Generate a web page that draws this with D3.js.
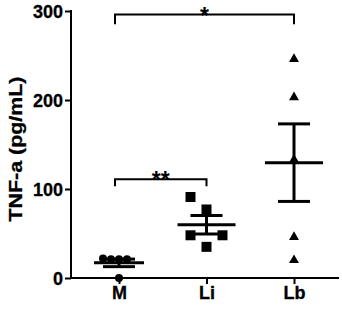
<!DOCTYPE html>
<html><head><meta charset="utf-8">
<script src="https://cdn.jsdelivr.net/npm/d3@7"></script>
<style>html,body{margin:0;padding:0;background:#fff;}svg{display:block;}</style>
</head><body>
<svg id="c" width="342" height="309"></svg>
<script>
const categories = ["M", "Li", "Lb"];
const valuesM  = [0, 21, 21, 22, 21];
const valuesLi = [35, 48, 48, 77, 91];
const valuesLb = [20, 46, 133, 203, 246];
const yTicks = [0, 100, 200, 300];
const yLabel = "TNF-a (pg/mL)";
const comparisons = [ {from:"M", to:"Lb", level:296, drop:285, label:"*"},
                      {from:"M", to:"Li", level:111, drop:103, label:"**"} ];

const groups = [
  {name:"M", values:valuesM, shape:d3.symbolCircle, size:50, w:8},
  {name:"Li", values:valuesLi, shape:d3.symbolSquare, size:100, w:10},
  {name:"Lb", values:valuesLb, shape:d3.symbolTriangle, size:43, w:10}
];

const svg = d3.select("#c");
const x = d3.scalePoint().domain(categories).range([119, 294]);
const y = d3.scaleLinear().domain([0, 300]).range([278, 11]);
const font = "'Liberation Sans', Arial, Helvetica, sans-serif";

// axes
svg.append("line").attr("x1", 71).attr("x2", 339).attr("y1", y(0)).attr("y2", y(0))
  .attr("stroke", "#000").attr("stroke-width", 2);
svg.append("line").attr("x1", 71).attr("x2", 71).attr("y1", y(0)+1).attr("y2", y(300)-1)
  .attr("stroke", "#000").attr("stroke-width", 2);

const ya = svg.append("g").attr("transform", "translate(71,0)")
  .call(d3.axisLeft(y).tickValues(yTicks).tickSize(6).tickPadding(2));
ya.select(".domain").remove();
ya.selectAll(".tick line").attr("stroke", "#000").attr("stroke-width", 2);
ya.selectAll(".tick text").attr("font-family", font).attr("font-weight", "bold")
  .attr("font-size", 18).attr("fill", "#000").attr("dy", "0.36em")
  .attr("stroke", "#000").attr("stroke-width", 0.3);

const xa = svg.append("g").attr("transform", `translate(0,${y(0)})`)
  .call(d3.axisBottom(x).tickSize(6).tickPadding(2));
xa.select(".domain").remove();
xa.selectAll(".tick line").attr("stroke", "#000").attr("stroke-width", 2);
xa.selectAll(".tick text").attr("font-family", font).attr("font-weight", "bold")
  .attr("font-size", 18).attr("fill", "#000")
  .attr("stroke", "#000").attr("stroke-width", 0.3);

// y label
svg.append("text").attr("transform", "translate(22,149) rotate(-90)")
  .attr("text-anchor", "middle").attr("font-family", font).attr("font-weight", "bold")
  .attr("font-size", 17.5).attr("textLength", 145).attr("lengthAdjust", "spacingAndGlyphs")
  .attr("fill", "#000").attr("stroke", "#000").attr("stroke-width", 0.3).text(yLabel);

// points with simple dodge (ascending order)
const pts = [];
groups.forEach(g => {
  const placed = [];
  const cx = x(g.name);
  [...g.values].sort((a,b)=>a-b).forEach(v => {
    const py = y(v);
    const cands = [0];
    for (let k = 1; k < 8; k++) { cands.push(-8*k, 8*k); }
    let off = 0;
    for (const c of cands) {
      const hit = placed.some(p => Math.abs(p.dx - c) < g.w && Math.abs(p.py - py) < g.w + 4);
      if (!hit) { off = c; break; }
    }
    placed.push({dx: off, py});
    pts.push({g, x: cx + off, y: py});
  });
});
svg.append("g").selectAll("path").data(pts).join("path")
  .attr("transform", d => `translate(${d.x},${d.y})`)
  .attr("d", d => d3.symbol().type(d.g.shape).size(d.g.size)())
  .attr("fill", "#000");

// mean and SEM
groups.forEach(g => {
  const m = d3.mean(g.values);
  const sem = d3.deviation(g.values) / Math.sqrt(g.values.length);
  const cx = x(g.name);
  const hw = g.name === "M" ? 25 : 29;
  const gg = svg.append("g").attr("stroke", "#000").attr("stroke-width", 3);
  gg.append("line").attr("x1", cx - hw).attr("x2", cx + hw).attr("y1", y(m)).attr("y2", y(m));
  gg.append("line").attr("x1", cx).attr("x2", cx).attr("y1", y(m - sem)).attr("y2", y(m + sem));
  [m - sem, m + sem].forEach(v => gg.append("line").attr("x1", cx - 16).attr("x2", cx + 16)
    .attr("y1", y(v)).attr("y2", y(v)));
});

// significance brackets
comparisons.forEach(c => {
  const x1 = x(c.from) - 4, x2 = x(c.to);
  svg.append("path")
    .attr("d", `M${x1},${y(c.drop)}V${y(c.level)}H${x2}V${y(c.drop)}`)
    .attr("fill", "none").attr("stroke", "#000").attr("stroke-width", 2);
  svg.append("text").attr("x", (x1 + x2) / 2).attr("y", y(c.level) + 9)
    .attr("text-anchor", "middle").attr("font-family", font).attr("font-weight", "bold")
    .attr("font-size", 23).attr("fill", "#000").text(c.label);
});
</script>
</body></html>
